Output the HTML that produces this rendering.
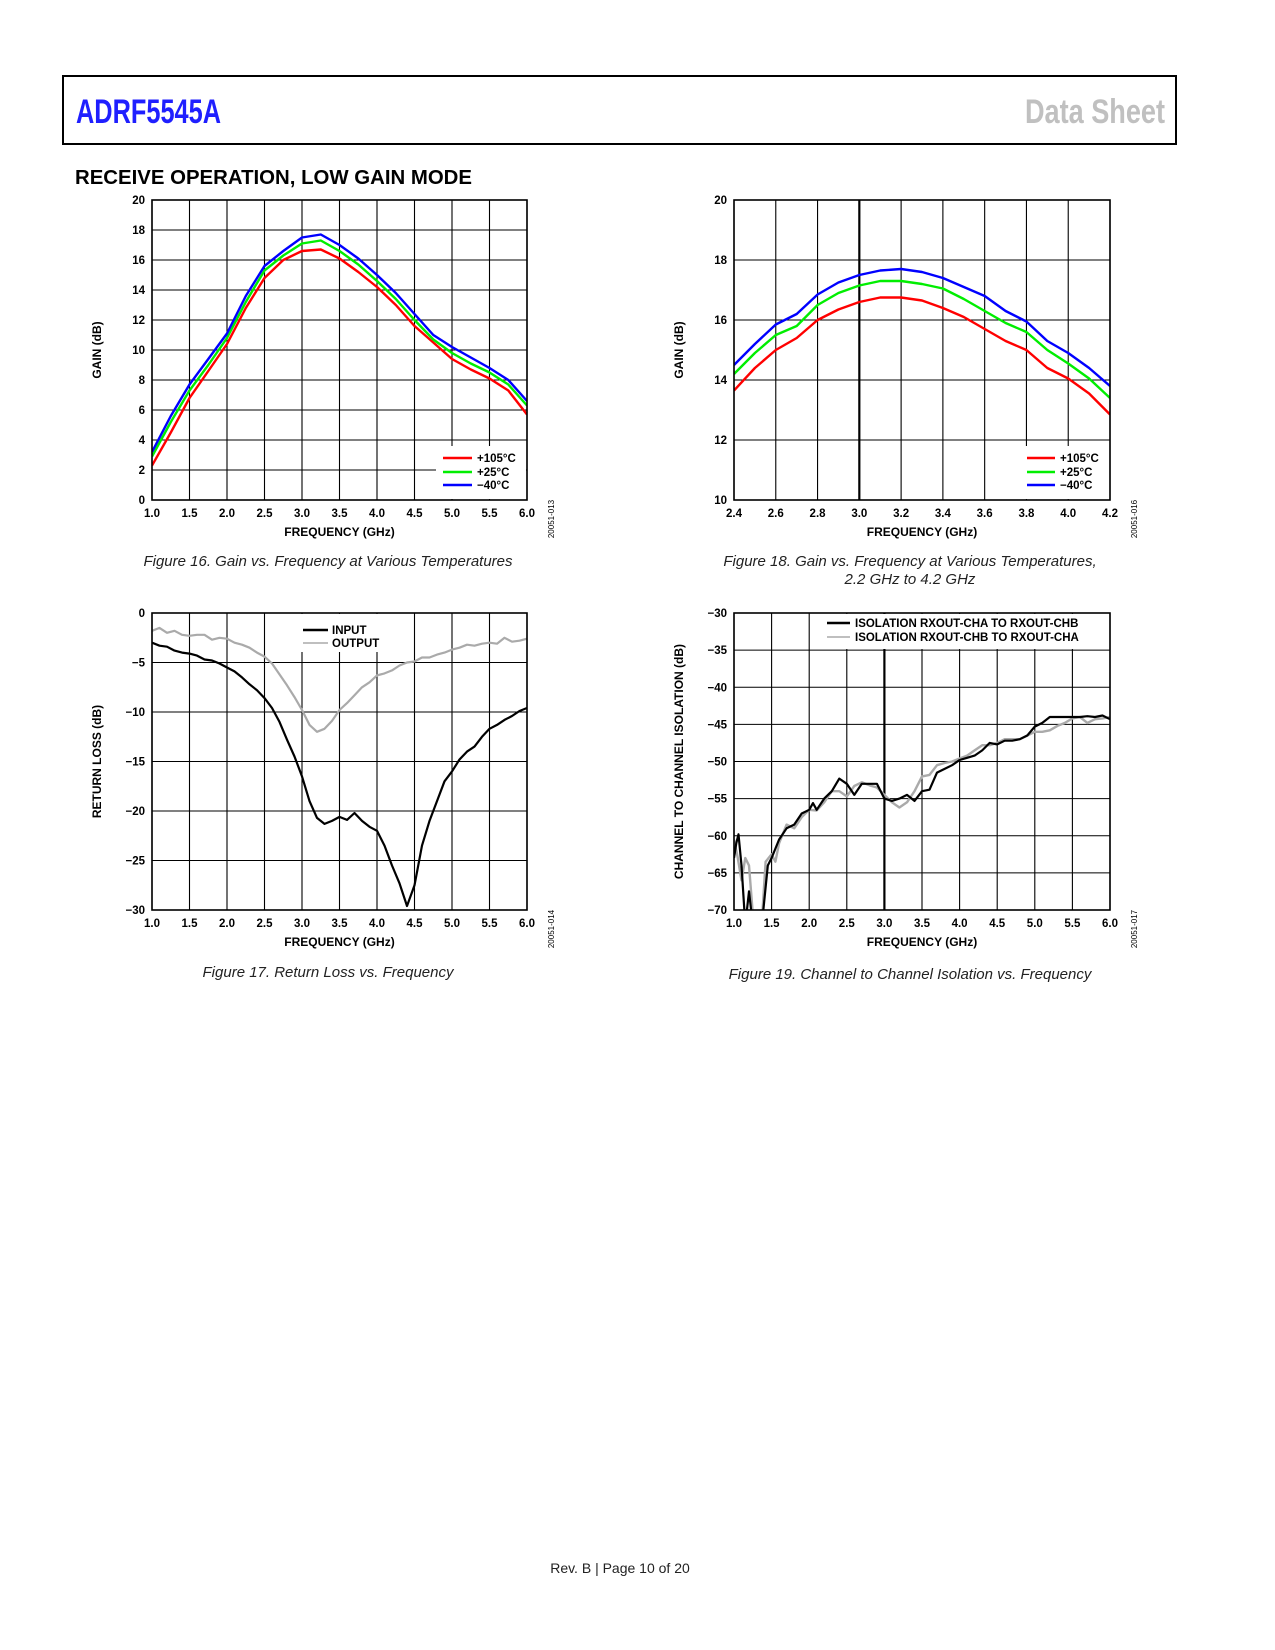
<!DOCTYPE html>
<html><head><meta charset="utf-8"><style>
body{margin:0;background:#fff;}
#page{position:relative;width:1275px;height:1650px;background:#fff;overflow:hidden;font-family:"Liberation Sans",sans-serif;}
svg text{font-family:"Liberation Sans",sans-serif;}
</style></head><body>
<div id="page">
<svg id="s" width="1275" height="1650" viewBox="0 0 1275 1650" xmlns="http://www.w3.org/2000/svg">
<rect x="63" y="76" width="1113" height="68" fill="none" stroke="#000" stroke-width="2"/>
<text x="76" y="123" font-size="34" font-weight="bold" fill="#1f1fff" textLength="145" lengthAdjust="spacingAndGlyphs">ADRF5545A</text>
<text x="1025" y="123" font-size="34" font-weight="bold" fill="#c0c0c0" textLength="140" lengthAdjust="spacingAndGlyphs">Data Sheet</text>
<text x="75" y="184" font-size="20" font-weight="bold" fill="#000" textLength="397" lengthAdjust="spacingAndGlyphs">RECEIVE OPERATION, LOW GAIN MODE</text>
<text x="328" y="566" font-size="15" font-style="italic" text-anchor="middle" fill="#222">Figure 16. Gain vs. Frequency at Various Temperatures</text>
<text x="910" y="566" font-size="15" font-style="italic" text-anchor="middle" fill="#222">Figure 18. Gain vs. Frequency at Various Temperatures,</text>
<text x="910" y="584" font-size="15" font-style="italic" text-anchor="middle" fill="#222">2.2 GHz to 4.2 GHz</text>
<text x="328" y="977" font-size="15" font-style="italic" text-anchor="middle" fill="#222">Figure 17. Return Loss vs. Frequency</text>
<text x="910" y="979" font-size="15" font-style="italic" text-anchor="middle" fill="#222">Figure 19. Channel to Channel Isolation vs. Frequency</text>
<text x="620" y="1573" font-size="14" text-anchor="middle" fill="#222">Rev. B | Page 10 of 20</text>
</svg>
</div>
<script>
// ---- Figure 16 data ----
const f16Freq = [1.0,1.25,1.5,1.75,2.0,2.25,2.5,2.75,3.0,3.25,3.5,3.75,4.0,4.25,4.5,4.75,5.0,5.25,5.5,5.75,6.0];
const f16Hot  = [2.3,4.5,6.8,8.6,10.4,12.8,14.8,16.0,16.6,16.7,16.1,15.2,14.2,13.0,11.6,10.5,9.4,8.7,8.1,7.3,5.7];
const f16Room = [2.9,5.2,7.3,9.0,10.8,13.2,15.3,16.3,17.1,17.3,16.6,15.7,14.6,13.4,12.0,10.7,9.8,9.1,8.5,7.7,6.3];
const f16Cold = [3.2,5.6,7.7,9.4,11.1,13.6,15.6,16.6,17.5,17.7,17.0,16.1,15.0,13.8,12.4,11.0,10.2,9.5,8.8,8.0,6.6];
const f16XTicks = ["1.0","1.5","2.0","2.5","3.0","3.5","4.0","4.5","5.0","5.5","6.0"];
const f16YTicks = ["0","2","4","6","8","10","12","14","16","18","20"];
// ---- Figure 18 data ----
const f18Freq = [2.4,2.5,2.6,2.7,2.8,2.9,3.0,3.1,3.2,3.3,3.4,3.5,3.6,3.7,3.8,3.9,4.0,4.1,4.2];
const f18Hot  = [13.65,14.4,15.0,15.4,16.0,16.35,16.6,16.75,16.75,16.65,16.4,16.1,15.7,15.3,15.0,14.4,14.05,13.55,12.85];
const f18Room = [14.2,14.9,15.5,15.8,16.5,16.9,17.15,17.3,17.3,17.2,17.05,16.7,16.3,15.9,15.6,15.0,14.55,14.05,13.4];
const f18Cold = [14.5,15.2,15.85,16.2,16.85,17.25,17.5,17.65,17.7,17.6,17.4,17.1,16.8,16.3,15.95,15.3,14.9,14.4,13.8];
const f18XTicks = ["2.4","2.6","2.8","3.0","3.2","3.4","3.6","3.8","4.0","4.2"];
const f18YTicks = ["10","12","14","16","18","20"];
// ---- Figure 17 data ----
const f17Freq = [1.0,1.1,1.2,1.3,1.4,1.5,1.6,1.7,1.8,1.9,2.0,2.1,2.2,2.3,2.4,2.5,2.6,2.7,2.8,2.9,3.0,3.1,3.2,3.3,3.4,3.5,3.6,3.7,3.8,3.9,4.0,4.1,4.2,4.3,4.4,4.5,4.6,4.7,4.8,4.9,5.0,5.1,5.2,5.3,5.4,5.5,5.6,5.7,5.8,5.9,6.0];
const f17Input  = [-3.0,-3.3,-3.4,-3.8,-4.0,-4.1,-4.3,-4.7,-4.8,-5.1,-5.5,-5.9,-6.5,-7.2,-7.8,-8.6,-9.6,-11.0,-12.8,-14.5,-16.5,-19.0,-20.7,-21.3,-21.0,-20.6,-20.9,-20.2,-21.0,-21.6,-22.0,-23.5,-25.5,-27.3,-29.6,-27.5,-23.5,-21.0,-19.0,-17.0,-16.0,-14.8,-14.0,-13.5,-12.5,-11.7,-11.3,-10.8,-10.4,-9.9,-9.6];
const f17Output = [-1.8,-1.5,-2.0,-1.8,-2.2,-2.3,-2.2,-2.2,-2.7,-2.5,-2.6,-3.0,-3.2,-3.5,-4.0,-4.4,-5.1,-6.2,-7.3,-8.5,-9.8,-11.3,-12.0,-11.7,-10.9,-9.8,-9.1,-8.3,-7.5,-7.0,-6.3,-6.1,-5.8,-5.3,-5.0,-4.9,-4.5,-4.5,-4.2,-4.0,-3.7,-3.5,-3.2,-3.3,-3.1,-3.0,-3.1,-2.5,-2.9,-2.8,-2.6];
const f17XTicks = ["1.0","1.5","2.0","2.5","3.0","3.5","4.0","4.5","5.0","5.5","6.0"];
const f17YTicks = ["−30","−25","−20","−15","−10","−5","0"];
// ---- Figure 19 data ----
const f19FreqA = [1.0,1.03,1.06,1.1,1.15,1.2,1.25,1.3,1.38,1.45,1.5,1.6,1.7,1.8,1.9,2.0,2.05,2.1,2.2,2.3,2.4,2.5,2.6,2.7,2.8,2.9,3.0,3.1,3.2,3.3,3.4,3.5,3.6,3.7,3.8,3.9,4.0,4.1,4.2,4.3,4.4,4.5,4.6,4.7,4.8,4.9,5.0,5.1,5.2,5.3,5.4,5.5,5.6,5.7,5.8,5.9,6.0];
const f19ChA   = [-63,-61,-59.8,-64,-72,-67.5,-72,-75,-71,-64,-63,-60.5,-59,-58.5,-57,-56.5,-55.6,-56.5,-55,-54,-52.3,-53,-54.5,-53,-53,-53,-55,-55.3,-55,-54.5,-55.3,-54,-53.8,-51.5,-51,-50.5,-49.8,-49.5,-49.2,-48.5,-47.5,-47.7,-47.2,-47.2,-47,-46.5,-45.3,-44.8,-44.0,-44.0,-44.0,-44.0,-44.0,-43.9,-44.0,-43.8,-44.3];
const f19FreqB = [1.0,1.05,1.1,1.15,1.2,1.25,1.3,1.38,1.42,1.5,1.55,1.6,1.7,1.8,1.9,2.0,2.1,2.2,2.3,2.4,2.5,2.6,2.7,2.8,2.9,3.0,3.1,3.2,3.3,3.4,3.5,3.6,3.7,3.8,3.9,4.0,4.1,4.2,4.3,4.4,4.5,4.6,4.7,4.8,4.9,5.0,5.1,5.2,5.3,5.4,5.5,5.6,5.7,5.8,5.9,6.0];
const f19ChB   = [-60.5,-63,-66,-63,-64,-70.5,-74,-70,-63.5,-62.5,-63.5,-61,-58.5,-59,-57.5,-56.5,-56.6,-55.5,-54,-54,-54.7,-53.3,-52.8,-53.2,-53.5,-54.5,-55.5,-56.2,-55.5,-54,-52,-51.8,-50.5,-50.2,-50,-49.6,-49.2,-48.5,-47.8,-47.8,-47.5,-47,-47,-47,-46.5,-46,-46,-45.8,-45.2,-44.8,-44.2,-44,-44.8,-44.3,-44.2,-44];
const f19XTicks = ["1.0","1.5","2.0","2.5","3.0","3.5","4.0","4.5","5.0","5.5","6.0"];
const f19YTicks = ["−70","−65","−60","−55","−50","−45","−40","−35","−30"];

const NS = "http://www.w3.org/2000/svg";
const svg = document.getElementById('s');
function mk(tag, attrs, parent){
  const e = document.createElementNS(NS, tag);
  for (const k in attrs) e.setAttribute(k, attrs[k]);
  (parent||svg).appendChild(e);
  return e;
}
function num(t){ return parseFloat(t.replace('−','-')); }

function chart(id, box, xTicks, yTicks, xTitle, yTitle, yTitleX, figId, thickX){
  const g = mk('g', {});
  
  
  const x0 = num(xTicks[0]), x1 = num(xTicks[xTicks.length-1]);
  const y0 = num(yTicks[0]), y1 = num(yTicks[yTicks.length-1]);
  const sx = v => box.l + (v - x0) / (x1 - x0) * (box.r - box.l);
  const sy = v => box.b - (v - y0) / (y1 - y0) * (box.b - box.t);
  xTicks.forEach(t => {
    const v = num(t), X = sx(v);
    const ln = mk('line', {x1:X, x2:X, y1:box.t, y2:box.b, stroke:'#000', 'stroke-width': (thickX!==undefined && Math.abs(v-thickX)<1e-6)?2.2:1.1}, g);
    
    
    const tx = mk('text', {x:X, y:box.b+17, 'font-size':11.5, 'font-weight':'bold', 'text-anchor':'middle'}, g);
    tx.textContent = t;
    
    
  });
  yTicks.forEach(t => {
    const Y = sy(num(t));
    const ln = mk('line', {x1:box.l, x2:box.r, y1:Y, y2:Y, stroke:'#000', 'stroke-width':1.1}, g);
    
    
    const tx = mk('text', {x:box.l-7, y:Y+4, 'font-size':11.5, 'font-weight':'bold', 'text-anchor':'end'}, g);
    tx.textContent = t;
    
    
  });
  const xt = mk('text', {x:(box.l+box.r)/2, y:box.b+36, 'font-size':12, 'font-weight':'bold', 'text-anchor':'middle'}, g);
  xt.textContent = xTitle;
  
  
  const cy = (box.t+box.b)/2;
  const yt = mk('text', {x:yTitleX, y:cy, 'font-size':12, 'font-weight':'bold', 'text-anchor':'middle', transform:'rotate(-90 '+yTitleX+' '+cy+')'}, g);
  yt.textContent = yTitle;
  
  
  const idx = box.r + 27, idy = box.b + 19;
  const fi = mk('text', {x:idx, y:idy, 'font-size':8, 'text-anchor':'middle', transform:'rotate(-90 '+idx+' '+idy+')'}, g);
  fi.textContent = figId;
  
  
  const cid = id + '-clip';
  const cp = mk('clipPath', {id:cid}, g);
  mk('rect', {x:box.l, y:box.t, width:box.r-box.l, height:box.b-box.t}, cp);
  const lines = mk('g', {'clip-path':'url(#'+cid+')'}, g);
  return {g, lines, sx, sy, box};
}
function series(c, xs, ys, color, w, name){
  const d = xs.map((x,i) => (i?'L':'M') + c.sx(x).toFixed(1) + ' ' + c.sy(ys[i]).toFixed(1)).join(' ');
  const p = mk('path', {d, fill:'none', stroke:color, 'stroke-width':w, 'stroke-linejoin':'round'}, c.lines);
  
  
}
function frame(c){
  const r = mk('rect', {x:c.box.l, y:c.box.t, width:c.box.r-c.box.l, height:c.box.b-c.box.t, fill:'none', stroke:'#000', 'stroke-width':1.6}, c.g);
  
  
}
function legend(c, rect, items, lx1, lx2, tx, ys, fs){
  const bg = mk('rect', {x:rect[0], y:rect[1], width:rect[2], height:rect[3], fill:'#fff'}, c.g);
  
  
  items.forEach((it, i) => {
    const l = mk('line', {x1:lx1, x2:lx2, y1:ys[i], y2:ys[i], stroke:it[1], 'stroke-width':it[2]}, c.g);
    
    
    const t = mk('text', {x:tx, y:ys[i]+4, 'font-size':fs, 'font-weight':'bold'}, c.g);
    t.textContent = it[0];
    
    
  });
}

// Figure 16
const c16 = chart('gain-chart-fig16', {l:152, r:527, t:200, b:500}, f16XTicks, f16YTicks, 'FREQUENCY (GHz)', 'GAIN (dB)', 101, '20051-013');
legend(c16, [436, 446, 90, 53], [['+105°C','#ff0000',2.5],['+25°C','#00ee00',2.5],['−40°C','#0000ff',2.5]], 443, 472, 477, [458,472,485], 11.5);
series(c16, f16Freq, f16Hot, '#ff0000', 2.4, 'series-105c');
series(c16, f16Freq, f16Room, '#00ee00', 2.4, 'series-25c');
series(c16, f16Freq, f16Cold, '#0000ff', 2.4, 'series-minus40c');
frame(c16);

// Figure 18
const c18 = chart('gain-chart-fig18', {l:734, r:1110, t:200, b:500}, f18XTicks, f18YTicks, 'FREQUENCY (GHz)', 'GAIN (dB)', 683, '20051-016', 3.0);
legend(c18, [1017, 446, 92, 53], [['+105°C','#ff0000',2.5],['+25°C','#00ee00',2.5],['−40°C','#0000ff',2.5]], 1027, 1055, 1060, [458,472,485], 11.5);
series(c18, f18Freq, f18Hot, '#ff0000', 2.4, 'series-105c');
series(c18, f18Freq, f18Room, '#00ee00', 2.4, 'series-25c');
series(c18, f18Freq, f18Cold, '#0000ff', 2.4, 'series-minus40c');
frame(c18);

// Figure 17
const c17 = chart('return-loss-chart-fig17', {l:152, r:527, t:613, b:910}, f17XTicks, f17YTicks, 'FREQUENCY (GHz)', 'RETURN LOSS (dB)', 101, '20051-014');
legend(c17, [276, 614, 124, 38], [['INPUT','#000',2.6],['OUTPUT','#aaa',1.6]], 303, 328, 332, [630,643], 11.5);
series(c17, f17Freq, f17Output, '#aaaaaa', 2.2, 'series-output');
series(c17, f17Freq, f17Input, '#000000', 2.2, 'series-input');
frame(c17);

// Figure 19
const c19 = chart('isolation-chart-fig19', {l:734, r:1110, t:613, b:910}, f19XTicks, f19YTicks, 'FREQUENCY (GHz)', 'CHANNEL TO CHANNEL ISOLATION (dB)', 683, '20051-017', 3.0);
legend(c19, [822, 614, 284, 35], [['ISOLATION RXOUT-CHA TO RXOUT-CHB','#000',2.6],['ISOLATION RXOUT-CHB TO RXOUT-CHA','#aaa',1.6]], 827, 850, 855, [623,637], 11.5);
series(c19, f19FreqB, f19ChB, '#aaaaaa', 2.4, 'series-chb-to-cha');
series(c19, f19FreqA, f19ChA, '#000000', 2.2, 'series-cha-to-chb');
frame(c19);
</script>
</body></html>
